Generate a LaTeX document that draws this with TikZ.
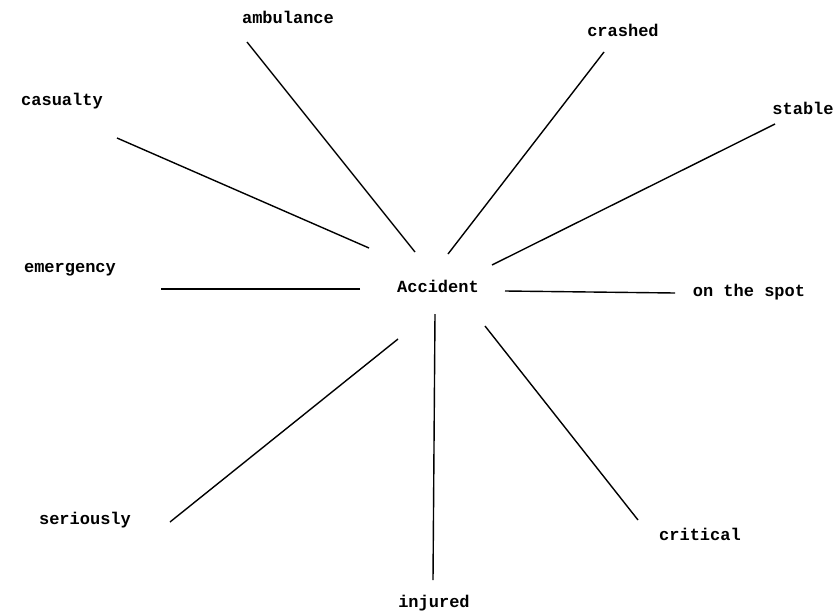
\documentclass[tikz,border=0pt]{standalone}
\usepackage{fontspec}
\setmonofont{Liberation Mono}
\begin{document}
\begin{tikzpicture}[x=1pt,y=-1pt,
  word/.style={font=\ttfamily\bfseries\fontsize{17}{20}\selectfont, inner sep=0pt, anchor=center},
  spoke/.style={line width=1.4pt, black}]
\useasboundingbox (0,0) rectangle (836,616);
% labels
\node[word] (acc) at (438,286) {Accident};
\node[word] (amb) at (288,17) {ambulance};
\node[word] (cra) at (623,30) {crashed};
\node[word] (cas) at (62,101) {casualty};
\node[word] (sta) at (803,108) {stable};
\node[word] (eme) at (70,270) {emergency};
\node[word] (ots) at (749,292) {on the spot};
\node[word] (ser) at (85,520) {seriously};
\node[word] (cri) at (700,534) {critical};
\node[word] (inj) at (434,603) {injured};
% spoke ends
\coordinate (ambA) at (415,252); \coordinate (ambB) at (247,42);
\coordinate (craA) at (448,254); \coordinate (craB) at (604,52);
\coordinate (casA) at (369,248); \coordinate (casB) at (117,138);
\coordinate (staA) at (492,265); \coordinate (staB) at (775,124);
\coordinate (emeA) at (360,289); \coordinate (emeB) at (161,289);
\coordinate (otsA) at (505,291); \coordinate (otsB) at (675,293);
\coordinate (serA) at (398,339); \coordinate (serB) at (170,522);
\coordinate (injA) at (435,314); \coordinate (injB) at (433,580);
\coordinate (criA) at (485,326); \coordinate (criB) at (638,520);
\draw[spoke] (ambA) -- (ambB);
\draw[spoke] (craA) -- (craB);
\draw[spoke] (casA) -- (casB);
\draw[spoke] (staA) -- (staB);
\draw[spoke] (emeA) -- (emeB);
\draw[spoke] (otsA) -- (otsB);
\draw[spoke] (serA) -- (serB);
\draw[spoke] (injA) -- (injB);
\draw[spoke] (criA) -- (criB);
\end{tikzpicture}
\end{document}
